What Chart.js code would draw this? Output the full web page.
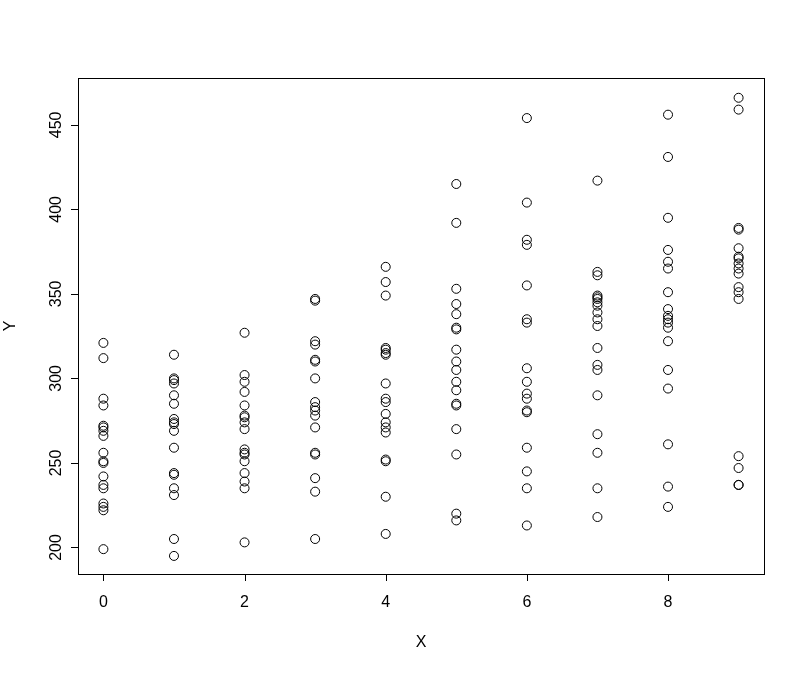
<!DOCTYPE html>
<html>
<head>
<meta charset="utf-8">
<script src="https://cdn.jsdelivr.net/npm/chart.js@4"></script>
<style>
  html, body { margin: 0; padding: 0; background: #fff; }
  canvas { display: block; }
</style>
</head>
<body>
<canvas id="plot" width="805" height="673"></canvas>
<script>
/* scatter of Y against X, R base-graphics look */
const xCats = [0, 1, 2, 3, 4, 5, 6, 7, 8, 9];
const yAt0 = [321, 312, 288, 284, 272, 271, 269, 266, 256, 251, 250, 242, 237, 235, 226, 224, 222, 199];
const yAt1 = [314, 300, 299, 297, 290, 285, 276, 274, 273, 269, 259, 244, 243, 235, 231, 205, 195];
const yAt2 = [327, 302, 298, 292, 284, 278, 277, 274, 270, 258, 256, 255, 251, 244, 239, 235, 203];
const yAt3 = [347, 346, 322, 320, 311, 310, 300, 286, 283, 281, 278, 271, 256, 255, 241, 233, 205];
const yAt4 = [366, 357, 349, 318, 317, 315, 314, 297, 288, 286, 279, 274, 271, 268, 252, 251, 230, 208];
const yAt5 = [415, 392, 353, 344, 338, 330, 329, 317, 310, 305, 298, 293, 285, 284, 270, 255, 220, 216];
const yAt6 = [454, 404, 382, 379, 355, 335, 333, 306, 298, 291, 288, 281, 280, 259, 245, 235, 213];
const yAt7 = [417, 363, 361, 349, 348, 347, 345, 343, 339, 335, 331, 318, 308, 305, 290, 267, 256, 235, 218];
const yAt8 = [456, 431, 395, 376, 369, 365, 351, 341, 337, 335, 333, 330, 322, 305, 294, 261, 236, 224];
const yAt9 = [466, 459, 389, 388, 377, 372, 371, 368, 365, 362, 354, 351, 347, 254, 247, 237, 237];
const xTicks = [0, 2, 4, 6, 8];
const yTicks = [200, 250, 300, 350, 400, 450];

const groups = [yAt0, yAt1, yAt2, yAt3, yAt4, yAt5, yAt6, yAt7, yAt8, yAt9];
const points = [];
groups.forEach((ys, i) => ys.forEach(y => points.push({ x: xCats[i], y: y })));

const FONT = "16px 'Liberation Sans', Arial, sans-serif";

const rAxes = {
  id: "rAxes",
  afterDraw(chart) {
    const { ctx, chartArea: a, scales: { x, y } } = chart;
    ctx.save();
    ctx.strokeStyle = "#000";
    ctx.fillStyle = "#000";
    ctx.lineWidth = 1;
    // box
    ctx.strokeRect(Math.round(a.left) + 0.5, Math.round(a.top) + 0.5,
      Math.round(a.right - a.left), Math.round(a.bottom - a.top));
    ctx.font = FONT;
    // x axis ticks + labels
    ctx.textAlign = "center";
    ctx.textBaseline = "middle";
    ctx.beginPath();
    xTicks.forEach(v => {
      const px = Math.round(x.getPixelForValue(v)) + 0.5;
      ctx.moveTo(px, a.bottom);
      ctx.lineTo(px, a.bottom + 7);
    });
    ctx.stroke();
    xTicks.forEach(v => ctx.fillText(String(v), x.getPixelForValue(v), a.bottom + 29));
    // y axis ticks + rotated labels
    ctx.beginPath();
    yTicks.forEach(v => {
      const py = Math.round(y.getPixelForValue(v)) + 0.5;
      ctx.moveTo(a.left, py);
      ctx.lineTo(a.left - 7, py);
    });
    ctx.stroke();
    yTicks.forEach(v => {
      ctx.save();
      ctx.translate(a.left - 21, y.getPixelForValue(v));
      ctx.rotate(-Math.PI / 2);
      ctx.fillText(String(v), 0, 0);
      ctx.restore();
    });
    // titles
    ctx.fillText("X", (a.left + a.right) / 2, a.bottom + 69);
    ctx.save();
    ctx.translate(11, (a.top + a.bottom) / 2);
    ctx.rotate(-Math.PI / 2);
    ctx.fillText("Y", 0, 0);
    ctx.restore();
    ctx.restore();
  },
};

new Chart(document.getElementById("plot"), {
  type: "scatter",
  data: {
    datasets: [{
      data: points,
      pointStyle: "circle",
      pointRadius: 4.5,
      pointHoverRadius: 4.5,
      borderColor: "#000",
      borderWidth: 1,
      backgroundColor: "rgba(0,0,0,0)",
      clip: false,
    }],
  },
  options: {
    responsive: false,
    devicePixelRatio: 1,
    animation: false,
    events: [],
    layout: { padding: { left: 78, top: 78, right: 41, bottom: 99 } },
    plugins: { legend: { display: false }, tooltip: { enabled: false } },
    scales: {
      x: { type: "linear", display: false, min: -0.36, max: 9.36 },
      y: { type: "linear", display: false, min: 184.3, max: 477.7 },
    },
  },
  plugins: [rAxes],
});
</script>
</body>
</html>
